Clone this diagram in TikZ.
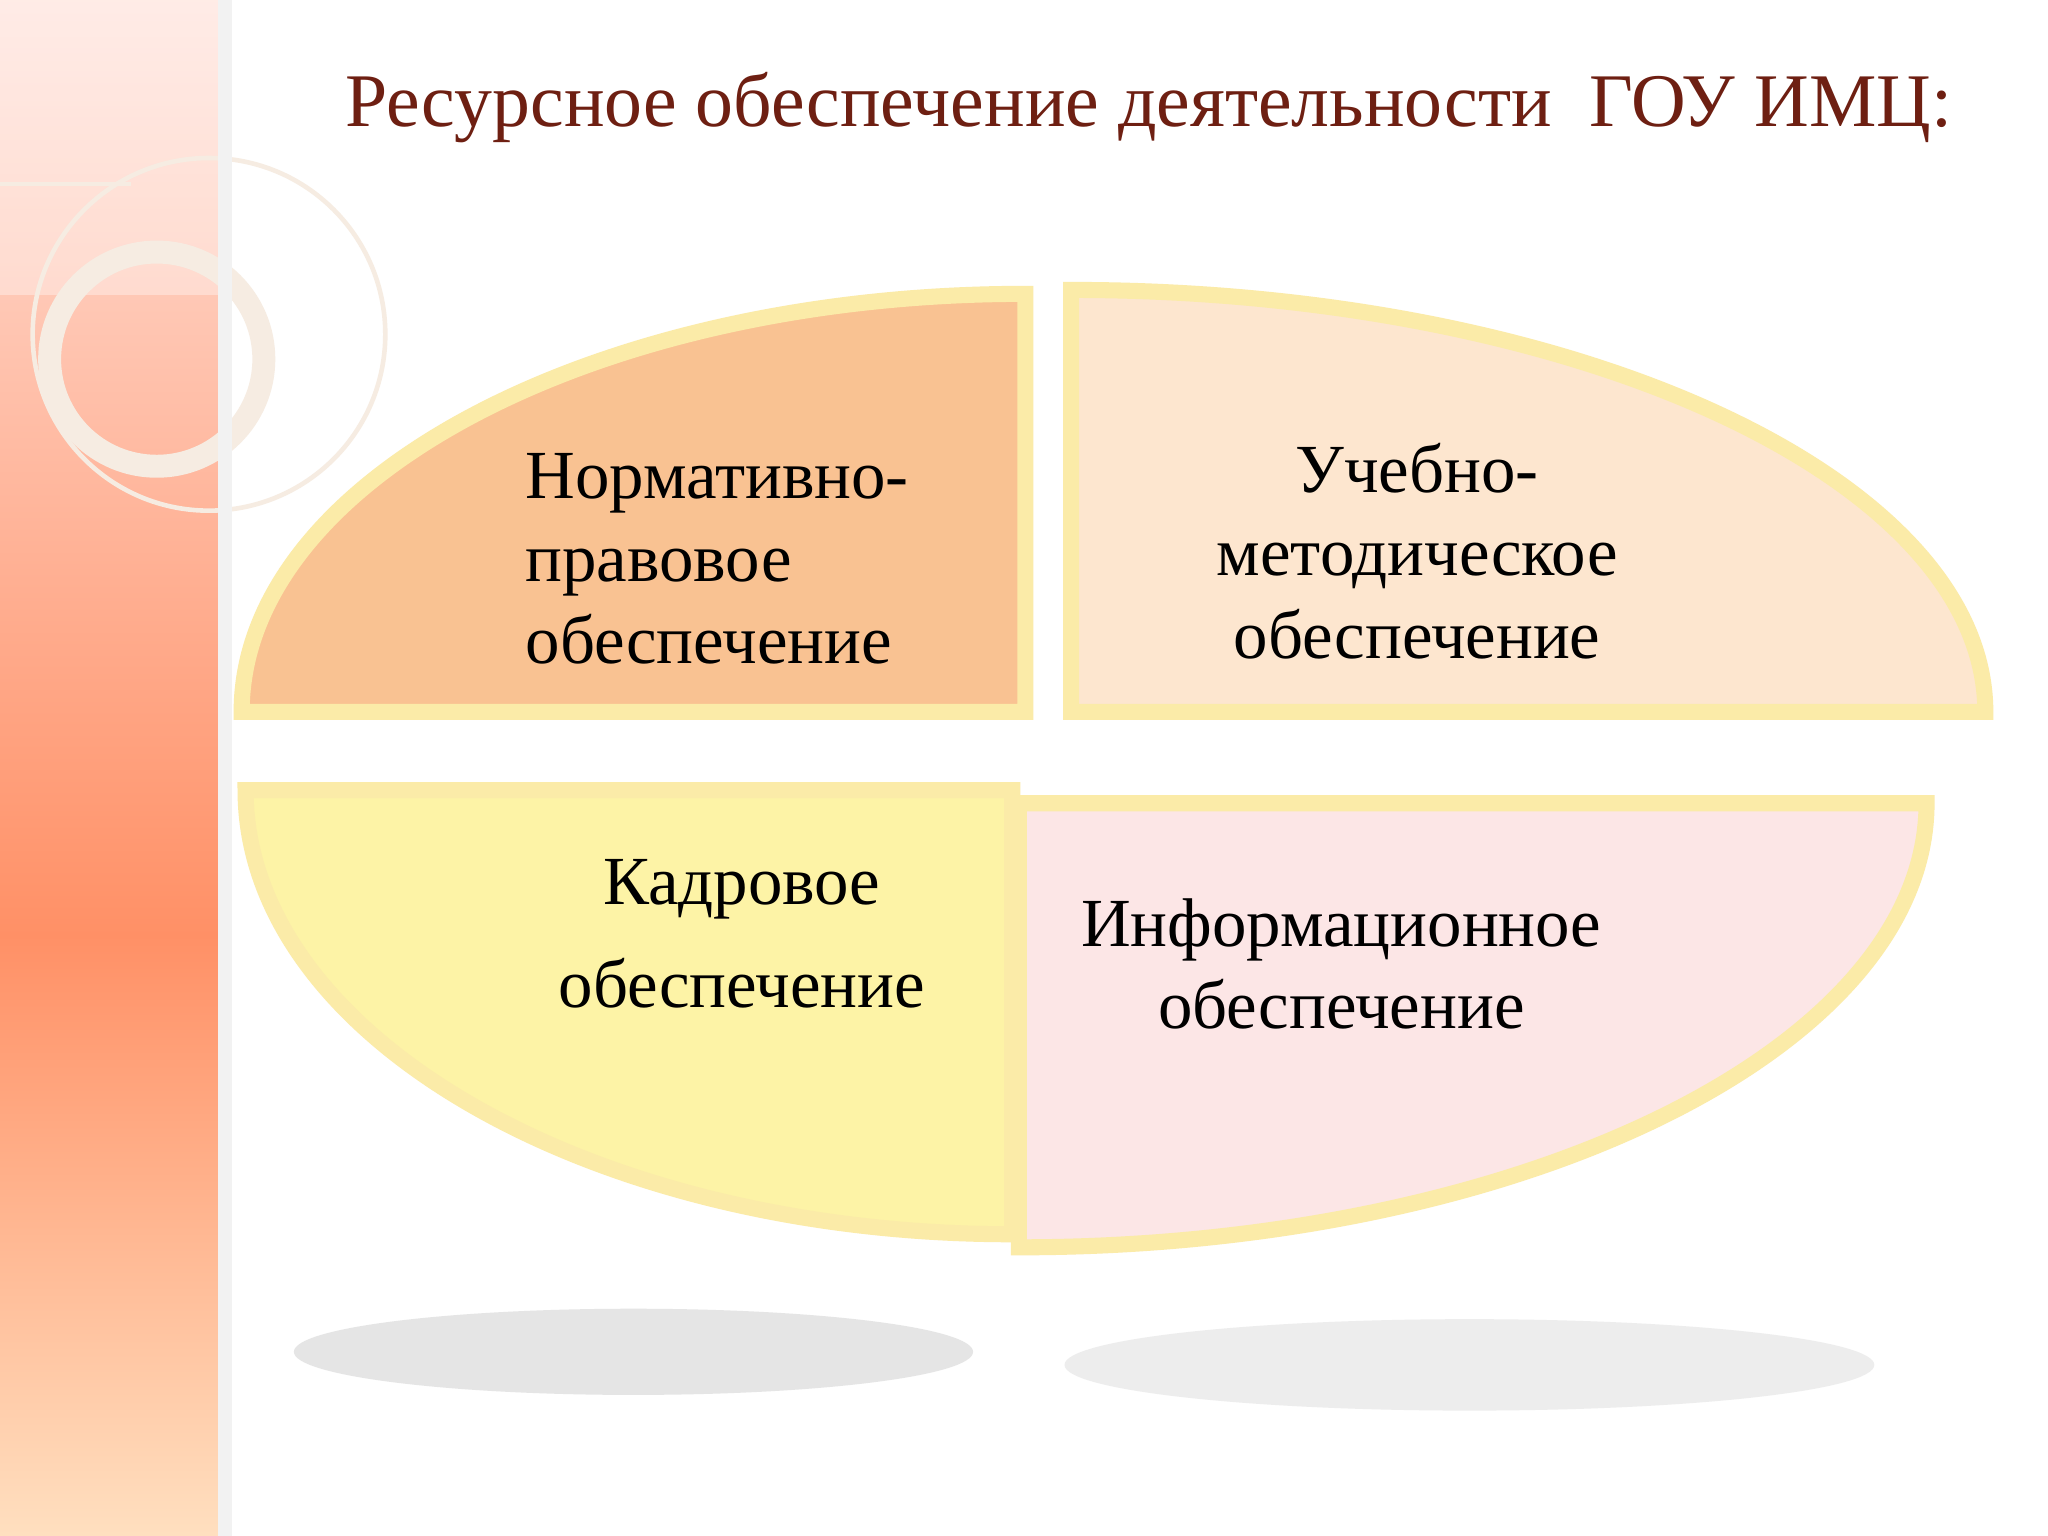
\documentclass[tikz,border=0pt]{standalone}
\usepackage{fontspec}
\setmainfont{Liberation Serif}
\usetikzlibrary{shadings}
\definecolor{titlered}{HTML}{6E1F12}
\definecolor{tlfill}{HTML}{F9C292}
\definecolor{trfill}{HTML}{FDE6CF}
\definecolor{blfill}{HTML}{FDF3A6}
\definecolor{brfill}{HTML}{FCE6E6}
\definecolor{rim}{HTML}{FBEBA8}
\tikzset{
  quad/.style={draw=rim, line width=3.5pt},
  lab/.style={font=\fontsize{15pt}{18pt}\selectfont, text=black, align=center},
  shadowblob/.style={fill=gray!45, opacity=0.45}
}
\begin{document}
\begin{tikzpicture}
\useasboundingbox (0,0) rectangle (15.68,11.76);
\fill[white] (0,0) rectangle (15.68,11.76);
% left strip
\shade[top color=orange!55!red!60!white, bottom color=orange!25!white] (0,0) rectangle (1.72,4.6);
\shade[top color=orange!15!pink!40!white, bottom color=orange!55!red!60!white] (0,4.6) rectangle (1.72,11.76);
\fill[white, opacity=0.35] (0,9.5) rectangle (1.72,11.76);
\draw[white!85!brown, line width=5pt] (1.2,9.01) circle (0.82);
\draw[white!85!brown, line width=1pt] (1.6,9.2) circle (1.35);
\draw[white!85!brown, line width=1pt] (0,10.35) -- (1.0,10.35);
\draw[white!90!gray, line width=3pt] (1.72,0) -- (1.72,11.76);
% title
\node[text=titlered, font=\fontsize{16.5pt}{20pt}\selectfont, anchor=west] (title) at (2.52,10.94) {Ресурсное обеспечение деятельности \ ГОУ ИМЦ:};
% shadows
\fill[shadowblob] (4.85,1.41) ellipse (2.6 and 0.33);
\fill[shadowblob, opacity=0.3] (11.25,1.31) ellipse (3.1 and 0.35);
% quadrants
\path[quad, fill=tlfill] (7.85,6.31) -- (1.85,6.31) arc (180:90:6 and 3.2) -- cycle;
\path[quad, fill=trfill] (8.20,6.31) -- (8.20,9.54) arc (90:0:7 and 3.23) -- cycle;
\path[quad, fill=blfill] (7.75,5.71) -- (1.88,5.71) arc (180:270:5.87 and 3.40) -- cycle;
\path[quad, fill=brfill] (7.80,5.61) -- (7.80,2.21) arc (270:360:6.95 and 3.40) -- cycle;
% labels
\node[lab, align=left, anchor=west] (tl) at (3.90,7.48) {Нормативно-\\правовое\\обеспечение};
\node[lab] (tr) at (10.85,7.54) {Учебно-\\методическое\\обеспечение};
\node[lab] (bl) at (5.68,4.61) {Кадровое\\[0.3em]обеспечение};
\node[lab] (br) at (10.27,4.38) {Информационное\\обеспечение};
\end{tikzpicture}
\end{document}
